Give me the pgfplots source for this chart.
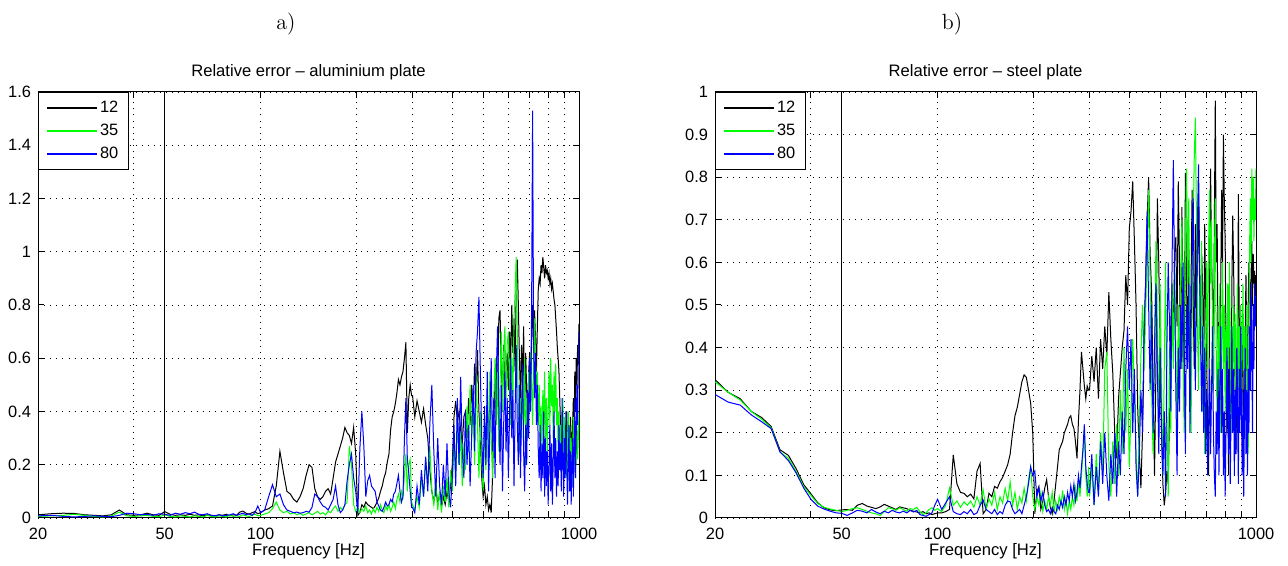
\documentclass[border=0pt]{standalone}
\usepackage{fontspec}
\usepackage{pgfplots}
\usepackage{pgfplotstable}
\pgfplotsset{compat=1.18}
\newfontfamily\arialf{Liberation Sans}

\pgfplotstableread{
f k g b
20 0.012 0.006 0.008
22 0.016 0.008 0.010
24 0.018 0.010 0.006
26 0.017 0.014 0.004
28 0.012 0.010 0.006
30 0.010 0.006 0.008
32 0.008 0.004 0.006
34 0.012 0.008 0.005
36 0.030 0.022 0.010
38 0.012 0.008 0.018
40 0.010 0.006 0.016
42 0.012 0.008 0.012
44 0.018 0.010 0.014
46 0.012 0.006 0.010
48 0.010 0.005 0.016
50 0.024 0.012 0.014
52 0.014 0.006 0.010
54 0.010 0.004 0.018
56 0.012 0.008 0.014
58 0.010 0.006 0.020
60 0.014 0.004 0.016
62 0.010 0.008 0.022
64 0.012 0.006 0.014
66 0.008 0.004 0.012
68 0.012 0.010 0.016
70 0.010 0.006 0.010
72 0.008 0.004 0.008
74 0.012 0.008 0.012
76 0.010 0.006 0.008
78 0.014 0.004 0.010
80 0.008 0.010 0.012
82 0.012 0.006 0.016
84 0.010 0.008 0.010
86 0.022 0.006 0.014
88 0.026 0.012 0.018
90 0.018 0.008 0.012
92 0.014 0.006 0.016
94 0.020 0.010 0.010
96 0.024 0.014 0.020
98 0.016 0.008 0.045
100 0.020 0.010 0.020
103 0.03 0.015 0.03
106 0.035 0.02 0.08
109 0.045 0.035 0.125
112 0.12 0.06 0.08
115 0.25 0.03 0.09
118 0.17 0.02 0.05
121 0.10 0.025 0.03
124 0.09 0.015 0.025
127 0.07 0.02 0.02
130 0.06 0.012 0.022
133 0.08 0.018 0.018
136 0.11 0.01 0.02
139 0.16 0.015 0.025
142 0.20 0.02 0.022
145 0.19 0.012 0.04
148 0.11 0.018 0.09
151 0.08 0.025 0.08
154 0.07 0.015 0.06
157 0.08 0.02 0.045
160 0.10 0.012 0.04
163 0.11 0.025 0.03
166 0.09 0.02 0.05
169 0.15 0.035 0.07
172 0.21 0.045 0.12
175 0.24 0.025 0.05
178 0.27 0.04 0.02
181 0.30 0.03 0.03
184 0.34 0.05 0.05
187 0.32 0.06 0.14
190 0.31 0.27 0.20
193 0.28 0.20 0.24
196 0.34 0.05 0.15
199 0.24 0.025 0.10
202 0.01 0.04 0.02
205 0.02 0.02 0.26
208 0.05 0.035 0.40
211 0.04 0.025 0.27
214 0.06 0.045 0.08
217 0.05 0.02 0.14
220 0.045 0.03 0.16
223 0.04 0.015 0.12
226 0.035 0.035 0.11
229 0.045 0.02 0.10
232 0.06 0.04 0.06
235 0.075 0.025 0.045
238 0.10 0.05 0.03
241 0.12 0.03 0.025
244 0.15 0.02 0.04
247 0.17 0.045 0.06
250 0.21 0.03 0.045
253 0.24 0.05 0.05
256 0.33 0.025 0.07
259 0.38 0.04 0.06
262 0.40 0.06 0.09
265 0.43 0.035 0.10
268 0.47 0.07 0.13
271 0.52 0.09 0.16
274 0.50 0.06 0.10
277 0.53 0.10 0.06
280 0.55 0.08 0.08
283 0.60 0.16 0.30
286 0.66 0.24 0.45
289 0.32 0.10 0.22
292 0.45 0.20 0.17
295 0.50 0.22 0.10
298 0.46 0.06 0.04
300 0.46 0.05 0.04
305 0.38 0.03 0.02
310 0.44 0.08 0.12
315 0.40 0.04 0.05
320 0.36 0.15 0.18
325 0.41 0.08 0.08
330 0.35 0.22 0.23
335 0.30 0.12 0.10
340 0.18 0.27 0.35
345 0.10 0.10 0.50
350 0.06 0.05 0.25
355 0.12 0.15 0.08
360 0.05 0.03 0.30
365 0.09 0.10 0.12
370 0.04 0.02 0.05
375 0.08 0.12 0.20
380 0.05 0.06 0.08
385 0.10 0.15 0.28
390 0.06 0.04 0.10
395 0.12 0.18 0.04
400 0.20 0.10 0.15
405 0.38 0.30 0.35
410 0.44 0.15 0.12
415 0.36 0.38 0.45
420 0.40 0.20 0.20
425 0.33 0.32 0.53
430 0.28 0.12 0.25
435 0.38 0.28 0.15
440 0.40 0.18 0.40
445 0.30 0.42 0.20
450 0.45 0.25 0.35
455 0.35 0.50 0.12
460 0.50 0.30 0.30
465 0.38 0.45 0.50
470 0.58 0.20 0.25
475 0.45 0.54 0.62
480 0.63 0.35 0.70
485 0.40 0.15 0.83
490 0.30 0.40 0.55
495 0.15 0.22 0.30
500 0.08 0.10 0.15
505 0.12 0.35 0.42
510 0.05 0.18 0.20
515 0.08 0.48 0.55
520 0.03 0.25 0.10
525 0.05 0.55 0.35
530 0.02 0.30 0.60
535 0.15 0.15 0.25
540 0.35 0.45 0.45
545 0.52 0.60 0.15
550 0.60 0.35 0.55
555 0.45 0.55 0.72
560 0.75 0.25 0.40
565 0.78 0.50 0.20
570 0.55 0.70 0.50
575 0.48 0.40 0.10
580 0.65 0.62 0.35
585 0.42 0.72 0.55
590 0.55 0.45 0.25
595 0.62 0.65 0.45
600 0.48 0.70 0.15
605 0.70 0.50 0.38
610 0.58 0.35 0.60
615 0.80 0.60 0.30
620 0.62 0.45 0.48
625 0.75 0.75 0.12
630 0.55 0.85 0.40
635 0.85 0.98 0.65
640 0.97 0.70 0.35
645 0.80 0.40 0.20
650 0.60 0.25 0.50
655 0.45 0.45 0.15
660 0.65 0.30 0.40
665 0.50 0.55 0.58
670 0.72 0.35 0.25
675 0.40 0.60 0.10
680 0.62 0.20 0.35
685 0.48 0.45 0.20
690 0.35 0.30 0.48
695 0.55 0.55 0.30
700 0.62 0.40 0.60
705 0.48 0.62 0.40
710 0.70 0.50 0.80
715 0.80 0.35 1.53
720 0.62 0.58 0.70
725 0.78 0.75 0.45
730 0.68 0.62 0.62
735 0.55 0.45 0.35
740 0.72 0.55 0.50
745 0.86 0.35 0.25
750 0.90 0.50 0.15
755 0.88 0.30 0.35
760 0.95 0.42 0.10
765 0.92 0.25 0.28
770 0.98 0.48 0.15
775 0.94 0.35 0.40
780 0.90 0.55 0.08
785 0.95 0.30 0.30
790 0.92 0.45 0.12
795 0.93 0.25 0.25
800 0.90 0.40 0.05
805 0.92 0.55 0.20
810 0.88 0.35 0.35
815 0.90 0.60 0.10
820 0.86 0.42 0.28
825 0.88 0.50 0.05
830 0.85 0.30 0.22
835 0.82 0.55 0.40
840 0.80 0.40 0.15
845 0.75 0.58 0.30
850 0.70 0.35 0.08
855 0.64 0.45 0.25
860 0.60 0.25 0.12
865 0.55 0.40 0.35
870 0.45 0.20 0.18
875 0.35 0.35 0.28
880 0.30 0.15 0.10
885 0.25 0.30 0.45
890 0.38 0.45 0.20
895 0.30 0.25 0.08
900 0.22 0.38 0.30
905 0.35 0.20 0.15
910 0.28 0.32 0.40
915 0.40 0.15 0.22
920 0.30 0.28 0.05
925 0.20 0.40 0.18
930 0.32 0.22 0.35
935 0.25 0.35 0.10
940 0.38 0.18 0.25
945 0.30 0.30 0.05
950 0.22 0.12 0.20
955 0.35 0.25 0.30
960 0.45 0.38 0.08
965 0.30 0.20 0.25
970 0.55 0.30 0.45
975 0.40 0.15 0.15
980 0.60 0.28 0.30
985 0.50 0.35 0.50
990 0.65 0.22 0.35
995 0.58 0.30 0.60
1000 0.73 0.40 0.70
}\tabA

\pgfplotstableread{
f k g b
20 0.325 0.320 0.290
22 0.295 0.295 0.272
24 0.280 0.277 0.265
26 0.250 0.250 0.242
28 0.236 0.232 0.226
30 0.215 0.212 0.210
32 0.160 0.155 0.155
34 0.147 0.140 0.135
36 0.115 0.108 0.105
38 0.078 0.073 0.070
40 0.057 0.053 0.044
42 0.036 0.034 0.028
44 0.024 0.025 0.021
46 0.019 0.021 0.016
48 0.017 0.018 0.012
50 0.019 0.015 0.011
52 0.020 0.018 0.006
54 0.018 0.022 0.012
56 0.030 0.024 0.018
58 0.034 0.020 0.016
60 0.028 0.016 0.012
62 0.025 0.012 0.020
64 0.022 0.010 0.014
66 0.026 0.006 0.010
68 0.032 0.015 0.016
70 0.028 0.024 0.012
72 0.024 0.022 0.018
74 0.020 0.018 0.014
76 0.026 0.024 0.012
78 0.024 0.020 0.016
80 0.022 0.016 0.012
82 0.018 0.022 0.018
84 0.016 0.020 0.014
86 0.014 0.025 0.018
88 0.012 0.015 0.008
90 0.015 0.008 0.006
92 0.010 0.012 0.004
94 0.012 0.020 0.008
96 0.008 0.024 0.012
98 0.010 0.018 0.030
100 0.012 0.022 0.044
103 0.012 0.015 0.02
106 0.015 0.03 0.035
109 0.02 0.07 0.05
112 0.148 0.03 0.015
115 0.08 0.04 0.01
118 0.06 0.025 0.008
121 0.058 0.038 0.015
124 0.05 0.03 0.01
127 0.056 0.04 0.02
130 0.045 0.025 0.008
133 0.11 0.05 0.012
136 0.128 0.03 0.03
139 0.01 0.066 0.042
142 0.02 0.02 0.02
145 0.058 0.045 0.015
148 0.05 0.03 0.01
151 0.074 0.06 0.02
154 0.07 0.02 0.008
157 0.085 0.05 0.015
160 0.095 0.035 0.01
163 0.11 0.07 0.03
166 0.125 0.04 0.04
169 0.15 0.085 0.038
172 0.2 0.03 0.02
175 0.24 0.06 0.01
178 0.26 0.02 0.015
181 0.29 0.05 0.02
184 0.32 0.035 0.01
187 0.336 0.07 0.03
190 0.33 0.04 0.05
193 0.30 0.09 0.08
196 0.27 0.12 0.12
199 0.2 0.05 0.1
202 0.01 0.02 0.11
205 0.06 0.05 0.05
208 0.074 0.03 0.07
211 0.02 0.06 0.04
214 0.04 0.015 0.06
217 0.07 0.04 0.03
220 0.09 0.02 0.015
223 0.05 0.05 0.02
226 0.025 0.03 0.01
229 0.01 0.06 0.025
232 0.04 0.015 0.015
235 0.08 0.04 0.01
238 0.12 0.02 0.03
241 0.16 0.05 0.02
244 0.17 0.03 0.04
247 0.18 0.065 0.025
250 0.2 0.02 0.05
253 0.21 0.045 0.03
256 0.22 0.01 0.06
259 0.235 0.04 0.04
262 0.24 0.02 0.075
265 0.22 0.05 0.05
268 0.21 0.03 0.08
271 0.18 0.07 0.04
274 0.14 0.04 0.06
277 0.23 0.09 0.1
280 0.3 0.05 0.07
283 0.39 0.1 0.12
286 0.35 0.15 0.16
289 0.31 0.21 0.22
292 0.28 0.1 0.12
295 0.31 0.05 0.08
298 0.3 0.12 0.06
300 0.30 0.05 0.06
305 0.38 0.12 0.15
310 0.32 0.03 0.03
315 0.40 0.15 0.12
320 0.28 0.06 0.05
325 0.42 0.20 0.18
330 0.35 0.10 0.08
335 0.45 0.35 0.20
340 0.38 0.39 0.10
345 0.53 0.12 0.04
350 0.42 0.05 0.15
355 0.34 0.18 0.08
360 0.20 0.08 0.20
365 0.14 0.22 0.05
370 0.28 0.10 0.18
375 0.34 0.30 0.10
380 0.40 0.15 0.25
385 0.44 0.40 0.15
390 0.57 0.20 0.35
395 0.50 0.35 0.45
400 0.68 0.12 0.30
405 0.72 0.25 0.42
410 0.79 0.42 0.20
415 0.65 0.30 0.35
420 0.50 0.15 0.12
425 0.26 0.05 0.05
430 0.15 0.22 0.15
435 0.07 0.38 0.30
440 0.20 0.50 0.20
445 0.38 0.35 0.45
450 0.55 0.48 0.55
455 0.70 0.62 0.72
460 0.80 0.77 0.50
465 0.62 0.55 0.30
470 0.53 0.30 0.50
475 0.30 0.15 0.20
480 0.10 0.40 0.40
485 0.35 0.65 0.55
490 0.75 0.45 0.35
495 0.60 0.20 0.15
500 0.38 0.55 0.40
505 0.20 0.30 0.20
510 0.08 0.10 0.10
515 0.03 0.35 0.25
520 0.06 0.60 0.05
525 0.11 0.25 0.40
530 0.08 0.05 0.60
535 0.25 0.40 0.45
540 0.46 0.20 0.25
545 0.55 0.55 0.60
550 0.40 0.35 0.84
555 0.62 0.60 0.55
560 0.66 0.40 0.30
565 0.45 0.15 0.10
570 0.79 0.50 0.40
575 0.60 0.30 0.25
580 0.35 0.55 0.50
585 0.73 0.70 0.35
590 0.50 0.40 0.60
595 0.25 0.20 0.40
600 0.81 0.65 0.15
605 0.55 0.82 0.50
610 0.40 0.55 0.35
615 0.63 0.75 0.55
620 0.30 0.40 0.20
625 0.55 0.20 0.45
630 0.77 0.50 0.60
635 0.50 0.70 0.75
640 0.35 0.85 0.50
645 0.69 0.94 0.30
650 0.45 0.70 0.55
655 0.60 0.45 0.70
660 0.76 0.30 0.83
665 0.55 0.55 0.60
670 0.40 0.40 0.40
675 0.62 0.65 0.25
680 0.54 0.25 0.45
685 0.30 0.45 0.20
690 0.69 0.15 0.40
695 0.50 0.40 0.15
700 0.38 0.60 0.30
705 0.20 0.35 0.10
710 0.10 0.65 0.20
715 0.55 0.77 0.35
720 0.82 0.55 0.15
725 0.60 0.70 0.30
730 0.54 0.45 0.45
735 0.30 0.30 0.20
740 0.70 0.60 0.10
745 0.98 0.75 0.05
750 0.60 0.40 0.25
755 0.69 0.20 0.15
760 0.40 0.45 0.35
765 0.46 0.30 0.10
770 0.25 0.55 0.30
775 0.55 0.20 0.45
780 0.77 0.40 0.20
785 0.60 0.60 0.35
790 0.90 0.35 0.10
795 0.75 0.50 0.25
800 0.65 0.25 0.05
805 0.40 0.45 0.20
810 0.20 0.30 0.40
815 0.38 0.55 0.25
820 0.10 0.35 0.15
825 0.50 0.60 0.35
830 0.35 0.40 0.08
835 0.25 0.20 0.25
840 0.55 0.45 0.45
845 0.71 0.30 0.20
850 0.60 0.50 0.35
855 0.46 0.35 0.10
860 0.30 0.48 0.30
865 0.15 0.25 0.15
870 0.38 0.40 0.40
875 0.20 0.55 0.25
880 0.76 0.30 0.08
885 0.50 0.45 0.35
890 0.30 0.35 0.20
895 0.38 0.50 0.45
900 0.25 0.30 0.25
905 0.46 0.40 0.10
910 0.35 0.55 0.30
915 0.20 0.35 0.05
920 0.30 0.45 0.25
925 0.45 0.25 0.40
930 0.57 0.40 0.15
935 0.40 0.50 0.30
940 0.25 0.30 0.10
945 0.50 0.15 0.35
950 0.60 0.40 0.20
955 0.55 0.65 0.45
960 0.45 0.75 0.30
965 0.57 0.60 0.55
970 0.65 0.82 0.40
975 0.50 0.70 0.20
980 0.62 0.80 0.50
985 0.55 0.65 0.35
990 0.58 0.75 0.55
995 0.52 0.70 0.45
1000 0.57 0.82 0.52
}\tabB

\pgfplotsset{
  legend image code/.code={\draw[#1, line width=0.75pt] (0pt,0pt) -- (25pt,0pt);},
}

\begin{document}
\begin{tikzpicture}
\useasboundingbox (0,0) rectangle (644pt,283pt);
\begin{axis}[
    scale only axis, width=270.5pt, height=213pt,
    at={(19pt,24pt)}, anchor=south west,
    xmode=log, xmin=20, xmax=1000, ymin=0, ymax=1.6,
    xtick={20,40,50,100,200,300,400,500,600,700,800,900,1000},
    xticklabels={20,,50,100,,,,,,,,,1000},
    ytick={0,0.2,0.4,0.6,0.8,1,1.2,1.4,1.6},
    minor xtick={},
    grid=major,
    major grid style={black, line width=0.4pt, dash pattern=on 0.45pt off 2.6pt},
    axis line style={line width=0.5pt},
    tick align=inside, major tick length=3pt,
    every tick/.style={black, line width=0.5pt},
    /pgf/number format/assume math mode=true,
    tick label style={font=\arialf\fontsize{8.2}{9.5}\selectfont},
    xticklabel style={anchor=center, yshift=-8pt},
    title style={font=\arialf\fontsize{8.3}{9.5}\selectfont, at={(axis description cs:0.5,1)}, anchor=center, yshift=4pt},
    xlabel style={font=\arialf\fontsize{8.3}{9.5}\selectfont, at={(axis description cs:0.5,0)}, anchor=center, yshift=-16.5pt},
    legend style={at={(axis description cs:0,1)}, anchor=north west, draw=black, line width=0.5pt, fill=white,
      font=\arialf\fontsize{8.2}{9.5}\selectfont, inner xsep=4pt, inner ysep=2.2pt, row sep=0.3pt,
      nodes={inner xsep=1pt, inner ysep=2pt}},
    legend cell align=left,
    title={Relative error – aluminium plate}, xlabel={Frequency [Hz]}]
\addplot[black, line width=0.5pt] table[x=f,y=k]{\tabA};
\addlegendentry{12}
\addplot[green, line width=0.5pt] table[x=f,y=g]{\tabA};
\addlegendentry{35}
\addplot[blue, line width=0.5pt] table[x=f,y=b]{\tabA};
\addlegendentry{80}
\addplot[black, line width=0.5pt, forget plot] coordinates {(50,0) (50,1.6)};
\end{axis}
\begin{axis}[
    scale only axis, width=270.5pt, height=213pt,
    at={(357.5pt,24pt)}, anchor=south west,
    xmode=log, xmin=20, xmax=1000, ymin=0, ymax=1,
    xtick={20,40,50,100,200,300,400,500,600,700,800,900,1000},
    xticklabels={20,,50,100,,,,,,,,,1000},
    ytick={0,0.1,0.2,0.3,0.4,0.5,0.6,0.7,0.8,0.9,1},
    minor xtick={},
    grid=major,
    major grid style={black, line width=0.4pt, dash pattern=on 0.45pt off 2.6pt},
    axis line style={line width=0.5pt},
    tick align=inside, major tick length=3pt,
    every tick/.style={black, line width=0.5pt},
    /pgf/number format/assume math mode=true,
    tick label style={font=\arialf\fontsize{8.2}{9.5}\selectfont},
    xticklabel style={anchor=center, yshift=-8pt},
    title style={font=\arialf\fontsize{8.3}{9.5}\selectfont, at={(axis description cs:0.5,1)}, anchor=center, yshift=4pt},
    xlabel style={font=\arialf\fontsize{8.3}{9.5}\selectfont, at={(axis description cs:0.5,0)}, anchor=center, yshift=-16.5pt},
    legend style={at={(axis description cs:0,1)}, anchor=north west, draw=black, line width=0.5pt, fill=white,
      font=\arialf\fontsize{8.2}{9.5}\selectfont, inner xsep=4pt, inner ysep=2.2pt, row sep=0.3pt,
      nodes={inner xsep=1pt, inner ysep=2pt}},
    legend cell align=left,
    title={Relative error – steel plate}, xlabel={Frequency [Hz]}]
\addplot[black, line width=0.5pt] table[x=f,y=k]{\tabB};
\addlegendentry{12}
\addplot[green, line width=0.5pt] table[x=f,y=g]{\tabB};
\addlegendentry{35}
\addplot[blue, line width=0.5pt] table[x=f,y=b]{\tabB};
\addlegendentry{80}
\addplot[black, line width=0.5pt, forget plot] coordinates {(50,0) (50,1)};
\end{axis}
\node[font=\fontsize{11}{13}\selectfont] at (143pt,271pt) {a)};
\node[font=\fontsize{11}{13}\selectfont] at (476pt,271pt) {b)};
\end{tikzpicture}
\end{document}
